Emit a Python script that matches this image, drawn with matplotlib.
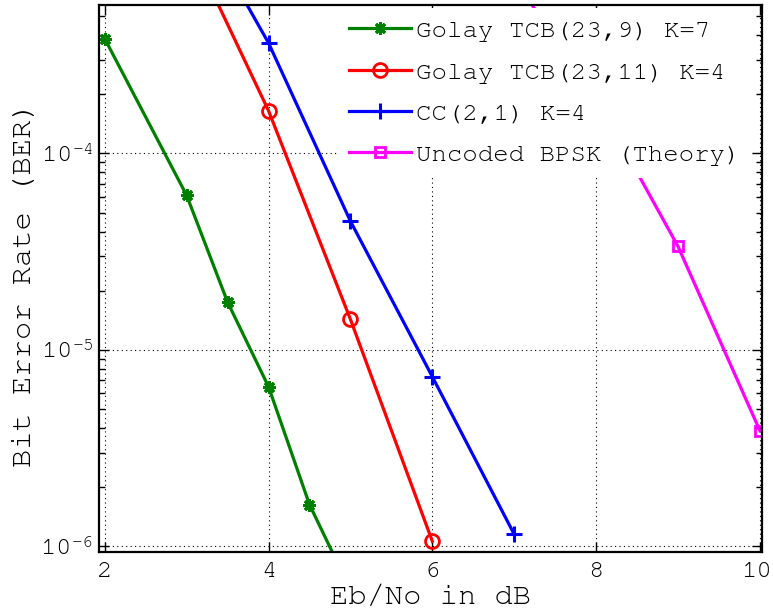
import matplotlib
matplotlib.use("Agg")
import matplotlib.pyplot as plt
from matplotlib import font_manager
from matplotlib.transforms import ScaledTranslation
from matplotlib.ticker import LogLocator, FixedLocator, NullFormatter, LogFormatterMathtext

# Eb/No (dB) and measured / theoretical bit error rates
ebno_golay9 = [2, 3, 3.5, 4, 4.5, 5]
ber_golay9 = [3.84e-4, 6.12e-5, 1.75e-5, 6.49e-6, 1.63e-6, 6.0e-7]

ebno_golay11 = [3, 4, 5, 6]
ber_golay11 = [1.25e-3, 1.65e-4, 1.43e-5, 1.06e-6]

ebno_cc = [3, 4, 5, 6, 7]
ber_cc = [2.0e-3, 3.65e-4, 4.52e-5, 7.3e-6, 1.15e-6]

ebno_bpsk = [6, 7, 8, 9, 10]
ber_bpsk = [2.39e-3, 7.73e-4, 1.91e-4, 3.36e-5, 3.87e-6]

labels = ["Golay TCB(23,9) K=7", "Golay TCB(23,11) K=4",
          "CC(2,1) K=4", "Uncoded BPSK (Theory)"]
x_ticks = [2, 4, 6, 8, 10]

# prefer a Courier-style typewriter face
available = {f.name for f in font_manager.fontManager.ttflist}
mono = "DejaVu Sans Mono"
for cand in ["Nimbus Mono PS", "Nimbus Mono L", "FreeMono", "Courier New",
             "Courier", "Liberation Mono"]:
    if cand in available:
        mono = cand
        break

plt.rcParams["font.family"] = [mono, "DejaVu Sans"]
plt.rcParams["mathtext.fontset"] = "custom"
plt.rcParams["mathtext.rm"] = mono
plt.rcParams["mathtext.it"] = mono
plt.rcParams["mathtext.bf"] = mono

fig = plt.figure(figsize=(7.73, 6.13), dpi=100)
ax = fig.add_axes([99 / 773, 1 - 552 / 613, (762 - 99) / 773, (552 - 5) / 613])

lw = 2.3
ax.plot(ebno_golay9, ber_golay9, color="#008000", lw=lw, marker=(8, 2, 0),
        markersize=9, markeredgewidth=2.2, label=labels[0])
ax.plot(ebno_golay11, ber_golay11, color="#ff0000", lw=lw, marker="o",
        markersize=10, markerfacecolor="none", markeredgewidth=2.0, label=labels[1])
ax.plot(ebno_cc, ber_cc, color="#0000ff", lw=lw, marker="+",
        markersize=11, markeredgewidth=2.2, label=labels[2])
ax.plot(ebno_bpsk, ber_bpsk, color="#ff00ff", lw=lw, marker="s",
        markersize=7, markerfacecolor="none", markeredgewidth=2.0, label=labels[3])

ax.set_yscale("log")
ax.set_xlim(1.93, 10.025)
ax.set_ylim(9.35e-7, 5.7e-4)

ax.xaxis.set_major_locator(FixedLocator(x_ticks))
ax.yaxis.set_major_locator(LogLocator(base=10, numticks=10))
ax.yaxis.set_minor_locator(LogLocator(base=10, subs=range(2, 10), numticks=20))
ax.yaxis.set_major_formatter(LogFormatterMathtext())
ax.yaxis.set_minor_formatter(NullFormatter())

ax.tick_params(which="both", direction="in", top=True, right=True,
               labelsize=18.5, width=1.0)
ax.tick_params(which="major", length=7)
ax.tick_params(which="minor", length=4)
ax.tick_params(axis="x", pad=7)
ax.tick_params(axis="y", pad=4)

# keep the last x tick label inside the figure edge
xlabels = ax.get_xticklabels()
xlabels[-1].set_transform(xlabels[-1].get_transform()
                          + ScaledTranslation(-3 / 100, 0, fig.dpi_scale_trans))

ax.grid(True, which="major", color="k", linestyle=(0, (1, 3)), lw=0.8)
for s in ax.spines.values():
    s.set_linewidth(1.6)

ax.set_xlabel("Eb/No in dB", fontsize=22, va="baseline")
ax.xaxis.set_label_coords(0.5, -0.095)
ax.set_ylabel("Bit Error Rate (BER)", fontsize=22, va="center")
ax.yaxis.set_label_coords(-0.112, 0.49)

leg = ax.legend(loc="upper right", bbox_to_anchor=(0.985, 0.995), fontsize=18.5,
                frameon=True, fancybox=False, edgecolor="white", framealpha=1.0,
                handlelength=2.4, handletextpad=0.2, labelspacing=0.71,
                borderpad=0.45, borderaxespad=0.0)
leg.get_frame().set_linewidth(0)

fig.savefig("out.png", dpi=100)
